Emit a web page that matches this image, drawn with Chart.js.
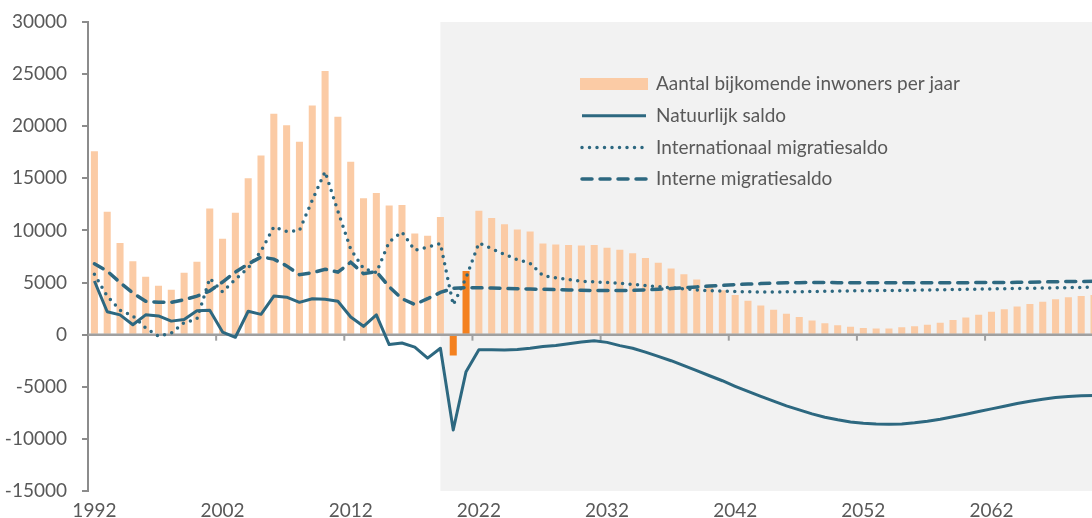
<!DOCTYPE html>
<html lang="nl">
<head>
<meta charset="utf-8">
<script src="https://cdn.jsdelivr.net/npm/chart.js@4.4.1/dist/chart.umd.min.js"></script>
<style>
  html, body { margin: 0; padding: 0; background: #fff; overflow: hidden; }
  #wrap { position: relative; width: 1102px; height: 518px; }
</style>
</head>
<body>
<div id="wrap"><canvas id="grafiek"></canvas></div>
<script>
// jaren (categorieën)
const jaren = [1992, 1993, 1994, 1995, 1996, 1997, 1998, 1999, 2000, 2001,
  2002, 2003, 2004, 2005, 2006, 2007, 2008, 2009, 2010, 2011,
  2012, 2013, 2014, 2015, 2016, 2017, 2018, 2019, 2020, 2021,
  2022, 2023, 2024, 2025, 2026, 2027, 2028, 2029, 2030, 2031,
  2032, 2033, 2034, 2035, 2036, 2037, 2038, 2039, 2040, 2041,
  2042, 2043, 2044, 2045, 2046, 2047, 2048, 2049, 2050, 2051,
  2052, 2053, 2054, 2055, 2056, 2057, 2058, 2059, 2060, 2061,
  2062, 2063, 2064, 2065, 2066, 2067, 2068, 2069, 2070];

// labels onder de x-as
const tickJaren = [1992, 2002, 2012, 2022, 2032, 2042, 2052, 2062];

// y-as
const yMin = -15000;
const yMax = 30000;
const yStap = 5000;

// grijs vlak (prognose) vanaf dit jaar, en jaren met donkere balk
const prognoseVanaf = 2019;
const afwijkendeJaren = [2020, 2021];

const bijkomend = [17600, 11800, 8800, 7050, 5550, 4700, 4300, 5950, 7000, 12100,
  9200, 11700, 15000, 17200, 21200, 20100, 18500, 22000, 25300, 20900,
  16600, 13100, 13600, 12400, 12450, 9700, 9500, 11300, -2000, 6100,
  11900, 11200, 10600, 10100, 9900, 8750, 8650, 8600, 8550, 8600,
  8350, 8150, 7800, 7350, 6900, 6350, 5800, 5300, 4800, 4250,
  3800, 3250, 2800, 2400, 2000, 1700, 1350, 1100, 900, 750,
  650, 580, 600, 700, 800, 950, 1150, 1400, 1650, 1900,
  2200, 2450, 2700, 2950, 3150, 3400, 3600, 3700, 3800];

const natuurlijk = [5150, 2200, 1900, 950, 1900, 1800, 1300, 1450, 2300, 2350,
  250, -250, 2250, 1950, 3700, 3600, 3100, 3450, 3400, 3200,
  1700, 800, 1900, -950, -800, -1200, -2250, -1300, -9150, -3550,
  -1450, -1450, -1480, -1420, -1300, -1130, -1030, -870, -710, -590,
  -740, -1050, -1300, -1670, -2080, -2500, -2980, -3460, -3940, -4420,
  -4950, -5450, -5930, -6380, -6830, -7210, -7600, -7920, -8170, -8370,
  -8500, -8580, -8590, -8560, -8460, -8300, -8110, -7880, -7630, -7370,
  -7120, -6860, -6600, -6380, -6190, -6030, -5930, -5870, -5840];

const internationaal = [5800, 3700, 2350, 1800, 650, -150, 150, 1150, 1500, 5400,
  4100, 5300, 6400, 8000, 10350, 9900, 10000, 12900, 15650, 11850,
  8200, 6350, 5950, 8900, 9850, 8100, 8400, 8750, 2850, 5450,
  8800, 8250, 7700, 7200, 6850, 5650, 5450, 5300, 5130, 5070,
  5000, 4920, 4820, 4710, 4600, 4500, 4400, 4300, 4220, 4170,
  4130, 4110, 4100, 4100, 4110, 4120, 4140, 4160, 4180, 4200,
  4220, 4230, 4240, 4250, 4270, 4290, 4310, 4330, 4350, 4370,
  4390, 4410, 4430, 4450, 4470, 4490, 4510, 4530, 4550];

const intern = [6800, 6100, 5000, 4000, 3200, 3100, 3100, 3350, 3700, 4200,
  5050, 6000, 6780, 7450, 7250, 6600, 5750, 5930, 6280, 6000,
  6950, 5850, 6050, 4600, 3450, 2900, 3450, 4050, 4450, 4520,
  4500, 4470, 4440, 4410, 4380, 4350, 4320, 4290, 4260, 4240,
  4230, 4230, 4250, 4300, 4350, 4420, 4500, 4580, 4660, 4730,
  4800, 4850, 4900, 4940, 4970, 4990, 5000, 5000, 4990, 4980,
  4980, 4980, 4980, 4980, 4980, 4980, 4980, 4990, 4990, 5000,
  5000, 5000, 5020, 5040, 5060, 5080, 5100, 5110, 5120];

const tekstKleur = '#595959';
const lijnKleur = '#2D6880';
const lichtOranje = '#FBCBA5';
const donkerOranje = '#F4811F';
const lettertype = 'Lato';

// grijs vlak achter de prognosejaren
const prognoseVlak = {
  id: 'prognoseVlak',
  beforeDatasetsDraw(chart) {
    const { ctx, chartArea, scales } = chart;
    const x0 = scales.x.getPixelForValue(jaren.indexOf(prognoseVanaf));
    ctx.save();
    ctx.fillStyle = '#F2F2F2';
    ctx.fillRect(x0, chartArea.top, chartArea.right - x0, chartArea.bottom - chartArea.top);
    ctx.restore();
  }
};

// horizontale as op nul met streepjes tussen de jaren
const nulAs = {
  id: 'nulAs',
  afterDatasetDraw(chart, args) {
    if (args.meta.type !== 'bar') return;
    const { ctx, chartArea, scales } = chart;
    const y = scales.y.getPixelForValue(0);
    const half = (scales.x.getPixelForValue(1) - scales.x.getPixelForValue(0)) / 2;
    ctx.save();
    ctx.strokeStyle = '#A0A0A0';
    ctx.lineWidth = 2.5;
    ctx.beginPath();
    ctx.moveTo(chartArea.left, y);
    ctx.lineTo(chartArea.right, y);
    ctx.stroke();
    ctx.lineWidth = 2;
    tickJaren.forEach(j => {
      const i = jaren.indexOf(j);
      if (i <= 0) return;
      const x = scales.x.getPixelForValue(i) - half;
      ctx.beginPath();
      ctx.moveTo(x, y);
      ctx.lineTo(x, y + 6);
      ctx.stroke();
    });
    ctx.restore();
  }
};

// legenda binnen het grafiekvlak
const legendeBinnen = {
  id: 'legendeBinnen',
  afterDraw(chart) {
    const ctx = chart.ctx;
    const x0 = 580, x1 = 648;
    ctx.save();
    ctx.font = '19px ' + lettertype;
    ctx.textBaseline = 'middle';
    chart.data.datasets.forEach((ds, i) => {
      const y = 84 + i * 31.7;
      if (ds.type === 'bar') {
        ctx.fillStyle = lichtOranje;
        ctx.fillRect(x0, y - 6, x1 - x0, 12);
      } else {
        ctx.strokeStyle = ds.borderColor;
        ctx.lineWidth = ds.borderWidth;
        ctx.lineCap = ds.borderCapStyle || 'butt';
        ctx.setLineDash(ds.borderDash || []);
        ctx.beginPath();
        ctx.moveTo(x0 + 2, y);
        ctx.lineTo(x1 - 2, y);
        ctx.stroke();
        ctx.setLineDash([]);
      }
      ctx.fillStyle = tekstKleur;
      ctx.fillText(ds.label, 656, y);
    });
    ctx.restore();
  }
};

const ctx = document.getElementById('grafiek').getContext('2d');
new Chart(ctx, {
  type: 'bar',
  data: {
    labels: jaren,
    datasets: [{
      type: 'bar',
      label: 'Aantal bijkomende inwoners per jaar',
      data: bijkomend,
      backgroundColor: jaren.map(j => afwijkendeJaren.includes(j) ? donkerOranje : lichtOranje),
      barPercentage: 0.55,
      categoryPercentage: 1,
      order: 4
    }, {
      type: 'line',
      label: 'Natuurlijk saldo',
      data: natuurlijk,
      borderColor: lijnKleur,
      borderWidth: 3,
      borderJoinStyle: 'round',
      pointRadius: 0,
      tension: 0,
      order: 3
    }, {
      type: 'line',
      label: 'Internationaal migratiesaldo',
      data: internationaal,
      borderColor: lijnKleur,
      borderWidth: 3.5,
      borderDash: [0, 7.5],
      borderCapStyle: 'round',
      pointRadius: 0,
      tension: 0,
      order: 2
    }, {
      type: 'line',
      label: 'Interne migratiesaldo',
      data: intern,
      borderColor: lijnKleur,
      borderWidth: 3.5,
      borderDash: [10, 8],
      borderCapStyle: 'round',
      pointRadius: 0,
      tension: 0,
      order: 1
    }]
  },
  options: {
    responsive: true,
    maintainAspectRatio: false,
    animation: false,
    layout: { padding: 0 },
    plugins: {
      legend: { display: false },
      tooltip: { enabled: false }
    },
    scales: {
      x: {
        offset: true,
        grid: { display: false, drawTicks: false },
        border: { display: false },
        ticks: {
          autoSkip: false,
          maxRotation: 0,
          padding: 8,
          color: tekstKleur,
          font: { family: lettertype, size: 19 },
          callback: (v, i) => tickJaren.includes(jaren[i]) ? String(jaren[i]) : ''
        },
        afterFit: s => { s.height = 27; }
      },
      y: {
        min: yMin,
        max: yMax,
        ticks: {
          stepSize: yStap,
          padding: 15,
          color: tekstKleur,
          font: { family: lettertype, size: 19 },
          callback: v => String(v)
        },
        grid: { drawOnChartArea: false, tickLength: 6, color: '#8C8C8C', lineWidth: 2 },
        border: { color: '#8C8C8C', width: 2 },
        afterFit: s => {
          s.width = 88;
          s.paddingTop = 22;
          s.paddingBottom = 0;
        }
      }
    }
  },
  plugins: [prognoseVlak, nulAs, legendeBinnen]
});
</script>
</body>
</html>
